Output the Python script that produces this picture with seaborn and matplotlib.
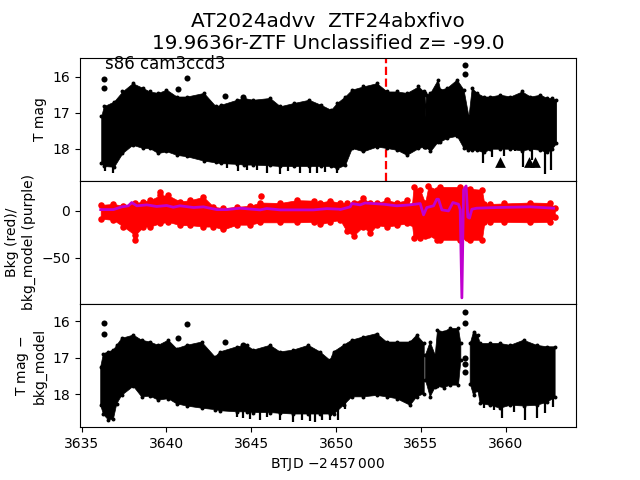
import numpy as np
import pandas as pd
import matplotlib
matplotlib.use('Agg')
import matplotlib.pyplot as plt
import seaborn as sns

nan = np.nan

# ── TOP PANEL: T mag ─────────────────────────────────────────────────────────
t_top = [3636.15, 3636.3, 3636.9, 3637.4, 3638.0, 3638.6, 3639.0, 3639.5, 3640.0, 3640.6, 3641.2,
         3642.2, 3642.9, 3643.2, 3644.15, 3644.55, 3645.1, 3646.1, 3646.7, 3647.5, 3648.4, 3649.1,
         3649.7, 3650.05, 3650.53, 3650.93, 3651.6, 3652.4, 3653.0, 3653.58, 3654.17, 3654.86,
         3655.16, 3655.22, 3655.25, 3655.29, 3655.55, 3656.0, 3656.14, 3656.53, 3657.12, 3657.52, 3657.81, 3658.0,
         3658.3, 3658.7, 3659.09, 3659.68, 3660.27, 3660.96, 3661.45, 3662.04, 3662.43, 3662.73, 3662.98]
mag_hi = [17.10, 16.82, 16.69, 16.41, 16.18, 16.31, 16.41, 16.45, 16.36, 16.55, 16.55,
          16.45, 16.82, 16.78, 16.64, 16.59, 16.64, 16.59, 16.82, 16.73, 16.64, 16.78,
          16.92, 16.73, 16.55, 16.36, 16.27, 16.18, 16.41, 16.41, 16.45, 16.27,
          16.41, 16.45, 17.15, 16.50, 16.45, 16.08, 16.36, 16.31, 16.08, 16.36, 17.10, 16.31,
          16.45, 16.55, 16.55, 16.50, 16.55, 16.41, 16.55, 16.50, 16.59, 16.59, 16.64]
mag_lo = [18.40, 18.48, 18.50, 18.12, 17.89, 17.98, 17.98, 18.12, 18.07, 18.17, 18.21,
          18.33, 18.38, 18.40, 18.42, 18.44, 18.44, 18.46, 18.48, 18.48, 18.48, 18.48,
          18.48, 18.54, 18.45, 17.98, 18.07, 17.94, 17.98, 18.03, 18.17, 17.98,
          17.94, 17.94, 17.94, 17.94, 18.07, 17.80, 17.80, 17.70, 17.64, 17.98, 18.03, 18.03,
          18.03, 18.10, 18.00, 18.00, 18.00, 18.05, 18.00, 18.03, 18.10, 18.00, 17.84]
spike_t = [3636.38, 3636.87, 3643.55, 3644.24, 3644.73, 3645.32, 3645.91, 3646.7, 3647.19, 3647.88, 3648.47,
           3648.86, 3649.36, 3650.04, 3658.66, 3659.19, 3659.88, 3660.56, 3661.0, 3661.55, 3662.33, 3662.67]
spike_mag = [18.63, 18.68, 18.54, 18.63, 18.58, 18.60, 18.66, 18.69, 18.63, 18.66, 18.66,
             18.68, 18.64, 18.66, 18.40, 18.23, 18.19, 18.07, 18.51, 18.31, 18.69, 18.58]
out_t = [3636.34, 3636.34, 3641.23, 3640.70, 3643.48, 3644.54, 3657.63, 3657.63]
out_mag = [16.06, 16.31, 16.04, 16.34, 16.54, 16.57, 15.68, 15.92]
tri_t = [3659.68, 3661.39, 3661.74]
tri_mag = [18.36, 18.36, 18.38]

# ── MIDDLE PANEL: background ─────────────────────────────────────────────────
t_bkg = [3636.12, 3636.87, 3637.46, 3638.15, 3638.64, 3639.03, 3639.62, 3640.11, 3640.8, 3641.39,
         3642.18, 3642.77, 3643.36, 3644.15, 3644.93, 3645.52, 3646.7, 3647.68, 3648.67, 3649.06,
         3649.64, 3650.24, 3650.63, 3651.03, 3651.6, 3652.0, 3652.4, 3653.0, 3653.58, 3654.17,
         3654.47, 3654.57, 3654.96, 3655.25, 3655.45, 3655.94, 3656.14, 3657.32, 3657.71, 3657.91,
         3658.6, 3658.75, 3659.09, 3659.88, 3661.45, 3662.63, 3662.9]
bkg_hi = [6, 7, 5, 8, 9.5, 11, 16, 16, 9.5, 11,
          14.5, 4, 2.5, 4, 5, 8.5, 8, 11, 10.5, 8.5,
          10.5, 8, 8, 8, 13, 8, 8, 11, 8.5, 11,
          5, 25, 22, 8, 26, 22, 25, 25, 22, 23,
          22, 6.5, 7, 7.5, 8.5, 8, 3]
bkg_lo = [-8.5, -10, -17, -26, -17, -17, -13.5, -12, -15.5, -15.5,
          -17, -17, -20, -15, -15, -12.5, -12.5, -12.5, -12, -14.5,
          -12, -10, -22, -26.5, -17, -24, -15.5, -17, -15.5, -13.5,
          -13.5, -29, -29, -27, -26, -31, -31, -31, -29, -31,
          -31, -12, -12, -12, -12.5, -12, -6.5]
bkg_out_t = [3638.15, 3639.62, 3645.6]
bkg_out_val = [-31.5, 20, 15.5]

t_model = [3636.12, 3636.87, 3637.36, 3637.75, 3637.95, 3638.25, 3638.84, 3639.42, 3640.01, 3640.4, 3640.8,
           3641.6, 3642.18, 3642.97, 3643.56, 3644.34, 3645.52, 3645.91, 3646.7, 3648.67, 3649.45, 3650.2,
           3650.24, 3650.83, 3650.93, 3651.42, 3651.71, 3652.2, 3652.8, 3653.58, 3654.37, 3654.96, 3655.16,
           3655.35, 3655.75, 3655.94, 3656.04, 3656.24, 3656.63, 3656.89, 3657.22, 3657.32, 3657.42, 3657.52,
           3657.67, 3657.77, 3657.87, 3658.01, 3658.3, 3659.48, 3661.45, 3662.83]
model_val = [1, 1, 3.9, 5, 8.5, 5, 6, 4.3, 5.3, 3.5, 5,
             3.2, 3.9, 1, 1, 2.5, 0.7, 2.1, 0.7, 0.7, 2, 1.4,
             1, 3.9, 7.4, 6, 8, 7.4, 6.7, 5, 6, 7.4, -4.6,
             3.2, 5, 12, 12, 0.7, -0.4, 8.5, 6.7, 1, -92.5, 22,
             26, -7, -8, 1.4, 2.5, 3.2, 3.9, 2.5]

# ── BOTTOM PANEL: T mag - bkg_model ──────────────────────────────────────────
t_sub = [3636.12, 3636.28, 3636.57, 3636.87, 3637.07, 3637.36, 3638.05, 3638.54, 3639.03, 3639.52, 3640.11,
         3640.6, 3641.19, 3642.08, 3642.87, 3643.16, 3644.15, 3644.73, 3645.13, 3646.11, 3646.7, 3647.49,
         3648.37, 3649.06, 3649.65, 3649.85, 3650.44, 3650.93, 3651.6, 3652.4, 3652.99, 3653.58, 3654.37,
         3654.76, 3655.2, nan, 3655.27, 3655.55, 3655.85, 3655.98, 3656.34, 3656.73, 3657.22, 3657.36, nan,
         3657.91, 3658.11, 3658.36, 3658.5, 3659.09, 3659.68, 3660.27, 3661.06, 3661.84, 3662.43, 3662.92]
sub_hi = [17.25, 16.89, 16.84, 16.79, 16.66, 16.47, 16.38, 16.52, 16.57, 16.66, 16.52,
          16.75, 16.66, 16.57, 16.98, 16.84, 16.70, 16.66, 16.79, 16.66, 16.84, 16.79,
          16.66, 16.84, 17.07, 16.84, 16.66, 16.52, 16.43, 16.34, 16.57, 16.57, 16.57,
          16.38, 16.61, nan, 16.93, 16.57, 16.93, 16.25, 16.29, 16.20, 16.20, 16.61, nan,
          16.61, 16.29, 16.38, 16.61, 16.61, 16.61, 16.66, 16.52, 16.66, 16.70, 16.70]
sub_lo = [18.30, 18.55, 18.70, 18.68, 18.26, 18.03, 17.78, 18.07, 18.05, 18.16, 18.12,
          18.26, 18.32, 18.38, 18.42, 18.45, 18.48, 18.48, 18.50, 18.50, 18.52, 18.54,
          18.54, 18.54, 18.54, 18.55, 18.30, 18.07, 18.07, 18.03, 18.07, 18.12, 18.30,
          18.07, 17.98, nan, 17.60, 18.07, 17.80, 17.78, 17.82, 17.75, 17.75, 17.07, nan,
          17.71, 18.03, 17.89, 18.25, 18.30, 18.38, 18.30, 18.32, 18.30, 18.22, 18.08]
sub_spike_t = [3644.15, 3644.54, 3644.93, 3645.52, 3645.91, 3646.7, 3647.49, 3647.98, 3648.47, 3648.77, 3649.16,
               3649.65, 3650.14, 3650.53, 3658.7, 3659.29, 3659.78, 3660.47, 3661.15, 3661.84, 3662.33, 3662.79]
sub_spike_mag = [18.62, 18.64, 18.67, 18.71, 18.62, 18.69, 18.76, 18.71, 18.73, 18.76, 18.69,
                 18.71, 18.69, 18.39, 18.37, 18.44, 18.64, 18.48, 18.69, 18.64, 18.51, 18.35]
sub_out_t = [3636.34, 3636.34, 3641.23, 3640.70, 3643.48, 3644.54, 3657.63, 3657.63, 3657.63, 3657.63, 3657.63]
sub_out_mag = [16.06, 16.34, 16.09, 16.47, 16.58, 16.66, 15.76, 16.04, 17.00, 17.18, 17.40]

# ── GRAFIK ───────────────────────────────────────────────────────────────────
fig, axes = plt.subplots(3, 1, figsize=(6.4, 4.8), sharex=True, gridspec_kw={'hspace': 0})
ax1, ax2, ax3 = axes


def draw_band(ax, t, hi, lo, color, size):
    # pita rapat, titik-titik tepi bikin pinggirnya bergerigi
    ax.fill_between(t, hi, lo, color=color, lw=0.5, zorder=2)
    edge = pd.DataFrame({'t': list(t) + list(t), 'y': list(hi) + list(lo)}).dropna()
    sns.scatterplot(data=edge, x='t', y='y', ax=ax, color=color, s=size, linewidth=0, zorder=3, legend=False)


ax1.axvline(3652.95, color='red', ls='--', lw=1.6, zorder=1)
draw_band(ax1, t_top, mag_hi, mag_lo, 'black', 8)
ax1.vlines(spike_t, 17.5, spike_mag, color='black', lw=1.6, zorder=2)
sns.scatterplot(x=out_t, y=out_mag, ax=ax1, color='black', s=19, linewidth=0, zorder=3)
sns.scatterplot(x=tri_t, y=tri_mag, ax=ax1, color='black', marker='^', s=60, linewidth=0, zorder=3)
ax1.text(3636.4, 15.78, 's86 cam3ccd3', fontsize=12)
ax1.set_ylim(18.89, 15.47)
ax1.set_yticks([16, 17, 18])
ax1.set_ylabel('T mag')

draw_band(ax2, t_bkg, bkg_hi, bkg_lo, 'red', 22)
sns.scatterplot(x=bkg_out_t, y=bkg_out_val, ax=ax2, color='red', s=22, linewidth=0, zorder=3)
sns.lineplot(x=t_model, y=model_val, ax=ax2, color='#c000d0', lw=2, sort=False, estimator=None, zorder=4)
ax2.set_ylim(-99, 31.5)
ax2.set_yticks([-50, 0])
ax2.set_ylabel('Bkg (red)/\nbkg_model (purple)')

draw_band(ax3, t_sub, sub_hi, sub_lo, 'black', 8)
ax3.vlines(sub_spike_t, 17.5, sub_spike_mag, color='black', lw=1.6, zorder=2)
sns.scatterplot(x=sub_out_t, y=sub_out_mag, ax=ax3, color='black', s=19, linewidth=0, zorder=3)
ax3.set_ylim(18.9, 15.53)
ax3.set_yticks([16, 17, 18])
ax3.set_ylabel('T mag $-$\nbkg_model')
ax3.set_xlim(3634.9, 3664.15)
ax3.set_xticks([3635, 3640, 3645, 3650, 3655, 3660])
ax3.set_xlabel('BTJD $-2\\,457\\,000$')

ax1.tick_params(axis='x', bottom=False)
ax2.tick_params(axis='x', bottom=False)
ax1.set_title('AT2024advv  ZTF24abxfivo\n19.9636r-ZTF Unclassified z= -99.0', fontsize=14.4)

plt.savefig('out.png', dpi=100)
plt.close()
